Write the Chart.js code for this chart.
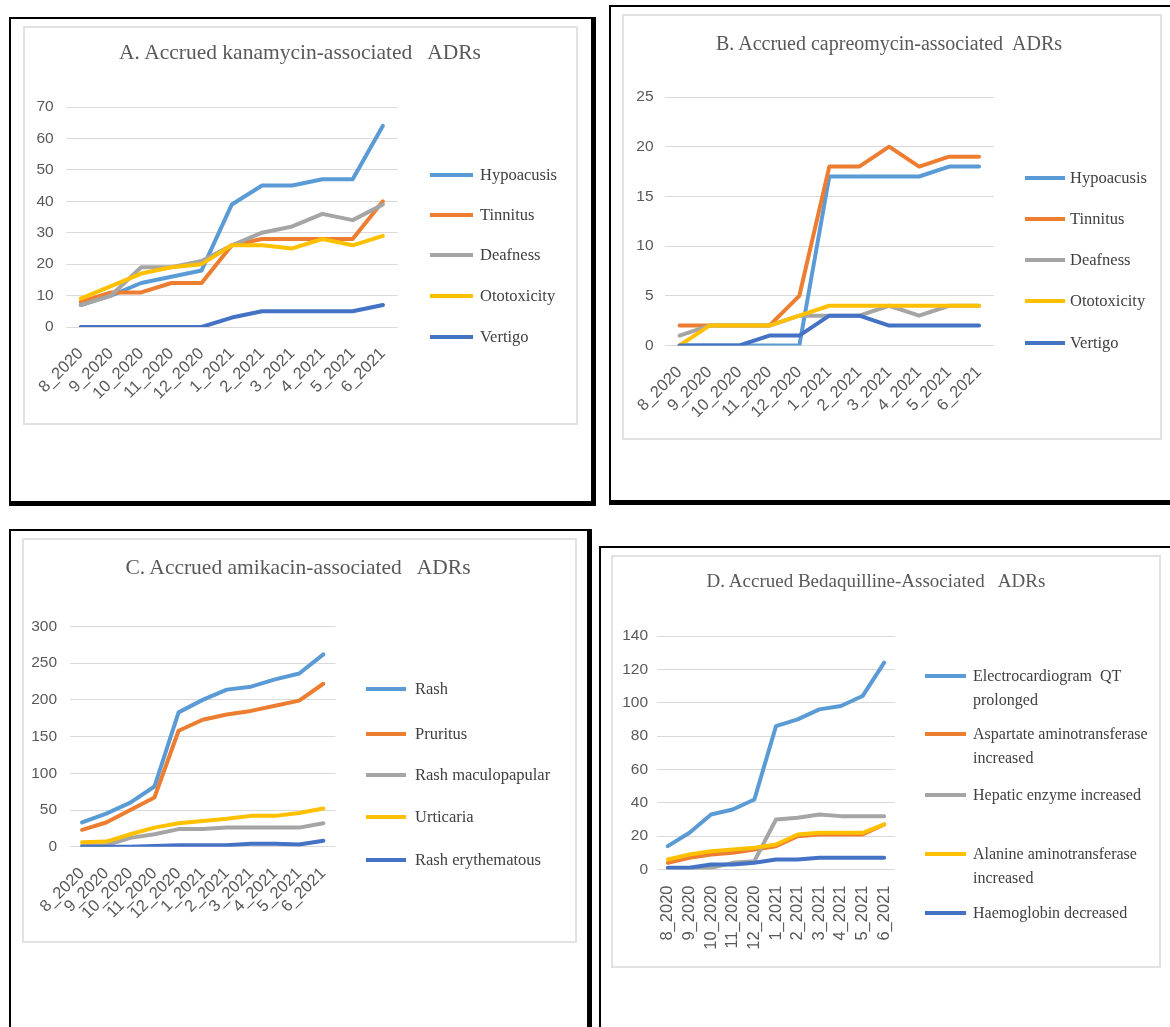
<!DOCTYPE html>
<html>
<head>
<meta charset="utf-8">
<script src="https://cdn.jsdelivr.net/npm/chart.js@4.4.1/dist/chart.umd.min.js"></script>
<style>
  html, body { margin: 0; padding: 0; background: #fff; }
  body { width: 1170px; height: 1027px; overflow: hidden; position: relative; }
  .frame { position: absolute; box-sizing: border-box; border-left: 2px solid #000; border-top: 2px solid #000;
           border-right: 5px solid #000; border-bottom: 5px solid #000; }
  .box { position: absolute; box-sizing: border-box; border: 2px solid #e2e2e2; }
  canvas { position: absolute; }
  .title { position: absolute; transform: translate(-50%, -50%); font-family: 'Liberation Serif', serif;
           color: #595959; white-space: pre; }
  .mark { position: absolute; height: 4px; }
  .legtext { position: absolute; font-family: 'Liberation Serif', serif; color: #404040; white-space: pre; }
</style>
</head>
<body>
<script>
// Month categories shared by all four panels
const months = ['8_2020', '9_2020', '10_2020', '11_2020', '12_2020', '1_2021', '2_2021', '3_2021', '4_2021', '5_2021', '6_2021'];

// Office-style series colours
const seriesColors = ['#5B9BD5', '#ED7D31', '#A5A5A5', '#FFC000', '#4472C4'];

// A. kanamycin
const kanaNames = ['Hypoacusis', 'Tinnitus', 'Deafness', 'Ototoxicity', 'Vertigo'];
const kanaHypoacusis = [7, 10, 14, 16, 18, 39, 45, 45, 47, 47, 64];
const kanaTinnitus   = [8, 11, 11, 14, 14, 26, 28, 28, 28, 28, 40];
const kanaDeafness   = [7, 10, 19, 19, 21, 26, 30, 32, 36, 34, 39];
const kanaOtotox     = [9, 13, 17, 19, 20, 26, 26, 25, 28, 26, 29];
const kanaVertigo    = [0, 0, 0, 0, 0, 3, 5, 5, 5, 5, 7];
const kanaTicks = { max: 70, step: 10 };

// B. capreomycin
const capNames = ['Hypoacusis', 'Tinnitus', 'Deafness', 'Ototoxicity', 'Vertigo'];
const capHypoacusis = [0, 0, 0, 0, 0, 17, 17, 17, 17, 18, 18];
const capTinnitus   = [2, 2, 2, 2, 5, 18, 18, 20, 18, 19, 19];
const capDeafness   = [1, 2, 2, 2, 3, 3, 3, 4, 3, 4, 4];
const capOtotox     = [0, 2, 2, 2, 3, 4, 4, 4, 4, 4, 4];
const capVertigo    = [0, 0, 0, 1, 1, 3, 3, 2, 2, 2, 2];
const capTicks = { max: 25, step: 5 };

// C. amikacin
const amiNames = ['Rash', 'Pruritus', 'Rash maculopapular', 'Urticaria', 'Rash erythematous'];
const amiRash      = [33, 45, 60, 82, 183, 200, 214, 218, 228, 236, 262];
const amiPruritus  = [23, 33, 50, 67, 158, 173, 180, 185, 192, 199, 222];
const amiMacular   = [2, 2, 12, 17, 24, 24, 26, 26, 26, 26, 32];
const amiUrticaria = [6, 7, 17, 26, 32, 35, 38, 42, 42, 46, 52];
const amiErythema  = [0, 0, 0, 1, 2, 2, 2, 4, 4, 3, 8];
const amiTicks = { max: 300, step: 50 };

// D. bedaquiline
const bdqNames = ['Electrocardiogram  QT\nprolonged', 'Aspartate aminotransferase\nincreased',
                  'Hepatic enzyme increased', 'Alanine aminotransferase\nincreased', 'Haemoglobin decreased'];
const bdqQT      = [14, 22, 33, 36, 42, 86, 90, 96, 98, 104, 124];
const bdqAST     = [4, 7, 9, 10, 12, 14, 20, 21, 21, 21, 27];
const bdqHepatic = [0, 0, 1, 4, 5, 30, 31, 33, 32, 32, 32];
const bdqALT     = [6, 9, 11, 12, 13, 15, 21, 22, 22, 22, 27];
const bdqHb      = [1, 1, 3, 3, 4, 6, 6, 7, 7, 7, 7];
const bdqTicks = { max: 140, step: 20 };

const yTickFont = { family: "'Liberation Sans', Arial, sans-serif", size: 15.5 };
const xTickFont = { family: "'Liberation Sans', Arial, sans-serif", size: 16.5 };
const tickColor = '#595959';

const panels = [
  {
    title: 'A. Accrued kanamycin-associated   ADRs', titleAt: [300, 52], titleSize: 21.5,
    frame: [9, 17, 587, 489], box: [23, 26, 555, 399],
    plot: { l: 63, r: 398, t: 107, b: 327 }, rot: 45, yPad: 12, xPad: 17,
    names: kanaNames, series: [kanaHypoacusis, kanaTinnitus, kanaDeafness, kanaOtotox, kanaVertigo], ticks: kanaTicks,
    legend: { mx: 430, mw: 43, tx: 480, ys: [175, 215, 255, 296, 337], size: 16.5 }
  },
  {
    title: 'B. Accrued capreomycin-associated  ADRs', titleAt: [889, 43], titleSize: 20,
    frame: [609, 5, 600, 500], box: [622, 14, 540, 426],
    plot: { l: 657.5, r: 994, t: 97, b: 345.5 }, rot: 45, yPad: 11, xPad: 17,
    names: capNames, series: [capHypoacusis, capTinnitus, capDeafness, capOtotox, capVertigo], ticks: capTicks,
    legend: { mx: 1025, mw: 40, tx: 1070, ys: [178, 219, 260, 301, 343], size: 16.5 }
  },
  {
    title: 'C. Accrued amikacin-associated   ADRs', titleAt: [298, 567], titleSize: 21.5,
    frame: [9, 529, 583, 520], box: [22, 538, 555, 405],
    plot: { l: 70, r: 335.4, t: 626.5, b: 846.7 }, rot: 45, yPad: 13, xPad: 17,
    names: amiNames, series: [amiRash, amiPruritus, amiMacular, amiUrticaria, amiErythema], ticks: amiTicks,
    legend: { mx: 366, mw: 40, tx: 415, ys: [689, 734, 775, 817, 860], size: 16.5 }
  },
  {
    title: 'D. Accrued Bedaquilline-Associated   ADRs', titleAt: [876, 581], titleSize: 19,
    frame: [599, 546, 600, 500], box: [611, 555, 550, 413],
    plot: { l: 657, r: 895, t: 636, b: 869.5 }, rot: 90, yPad: 9, xPad: 16,
    names: bdqNames, series: [bdqQT, bdqAST, bdqHepatic, bdqALT, bdqHb], ticks: bdqTicks,
    legend: { mx: 925, mw: 41, tx: 973, ys: [676, 734, 795, 854, 913], size: 16 }
  }
];

function place(el, x, y, w, h) {
  el.style.left = x + 'px'; el.style.top = y + 'px';
  if (w !== undefined) el.style.width = w + 'px';
  if (h !== undefined) el.style.height = h + 'px';
}

panels.forEach(p => {
  const frame = document.createElement('div');
  frame.className = 'frame';
  place(frame, ...p.frame);
  document.body.appendChild(frame);

  const box = document.createElement('div');
  box.className = 'box';
  place(box, ...p.box);
  document.body.appendChild(box);

  const [cx, cy, cw, ch] = p.box;
  const canvas = document.createElement('canvas');
  canvas.width = cw; canvas.height = ch;
  place(canvas, cx, cy, cw, ch);
  document.body.appendChild(canvas);

  const title = document.createElement('div');
  title.className = 'title';
  title.style.fontSize = p.titleSize + 'px';
  title.textContent = p.title;
  place(title, p.titleAt[0], p.titleAt[1]);
  document.body.appendChild(title);

  const yAxisWidth = p.plot.l - cx;
  const xAxisHeight = cy + ch - p.plot.b;
  const n = p.series.length;

  new Chart(canvas, {
    type: 'line',
    data: {
      labels: months,
      datasets: p.series.map((values, i) => ({
        label: p.names[i].replace(/\s*\n\s*/g, ' '),
        data: values,
        borderColor: seriesColors[i],
        backgroundColor: seriesColors[i],
        borderWidth: 4,
        pointRadius: 0,
        tension: 0,
        fill: false,
        borderJoinStyle: 'round',
        borderCapStyle: 'round',
        order: n - i
      }))
    },
    options: {
      responsive: false,
      animation: false,
      devicePixelRatio: 1,
      layout: { padding: { left: 0, bottom: 0, top: p.plot.t - cy, right: cx + cw - p.plot.r } },
      plugins: { legend: { display: false }, title: { display: false }, tooltip: { enabled: false } },
      scales: {
        x: {
          offset: true,
          grid: { display: false, drawTicks: false },
          border: { display: false },
          ticks: { autoSkip: false, minRotation: p.rot, maxRotation: p.rot, padding: p.xPad, color: tickColor, font: xTickFont },
          afterFit: s => { s.height = xAxisHeight; }
        },
        y: {
          min: 0, max: p.ticks.max,
          grid: { color: '#d9d9d9', lineWidth: 1, drawTicks: false },
          border: { display: false },
          ticks: { stepSize: p.ticks.step, padding: p.yPad, color: tickColor, font: yTickFont },
          afterFit: s => { s.width = yAxisWidth; }
        }
      }
    }
  });

  // legend: short line swatch + serif label for each series
  const lg = p.legend;
  p.names.forEach((name, i) => {
    const mark = document.createElement('div');
    mark.className = 'mark';
    mark.style.background = seriesColors[i];
    place(mark, lg.mx, lg.ys[i] - 2, lg.mw, 4);
    document.body.appendChild(mark);

    const txt = document.createElement('div');
    txt.className = 'legtext';
    txt.style.fontSize = lg.size + 'px';
    txt.style.lineHeight = '24px';
    txt.textContent = name;
    place(txt, lg.tx, lg.ys[i] - 12);
    document.body.appendChild(txt);
  });
});
</script>
</body>
</html>
